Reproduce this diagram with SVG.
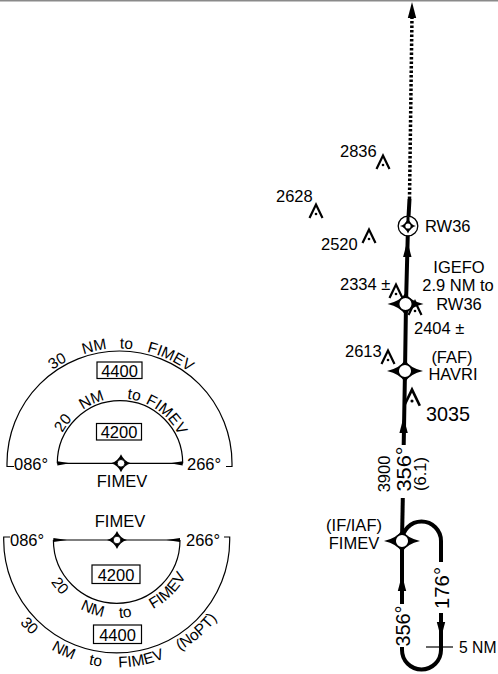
<svg xmlns="http://www.w3.org/2000/svg" width="498" height="674" viewBox="0 0 498 674">
<style>
text{font-family:"Liberation Sans",Arial,sans-serif;fill:#000}
.t16{font-size:16.5px}
.t15{font-size:15.5px}
.big{font-size:21px}
.thin{fill:none;stroke:#000;stroke-width:1.2}
.route{fill:none;stroke:#000;stroke-width:4}
.obs{fill:none;stroke:#000;stroke-width:2.2;stroke-linejoin:miter}
</style>
<defs>
<g id="fix">
<path d="M-18,0 Q-5,-3 0,-11 Q5,-3 18,0 Q5,3 0,11 Q-5,3 -18,0Z" fill="#000"/>
<circle r="6.8" fill="#fff" stroke="#000" stroke-width="1.5"/>
</g>
<g id="sfix">
<path d="M-10,0 Q-3,-2 0,-9 Q3,-2 10,0 Q3,2 0,9 Q-3,2 -10,0Z" fill="#000"/>
<circle r="3.8" fill="#fff" stroke="#000" stroke-width="0.9"/>
</g>
<g id="obst">
<path class="obs" d="M-6.5,14 L0,0.5 L6.5,14"/>
<circle cx="0" cy="10" r="1.3" fill="#000"/>
</g>
<path id="arr" d="M0,0 L4.2,16 L-4.2,16Z" fill="#000"/>
<path id="uo" d="M4.5,463.5 A115 115 0 0 1 234.5,463.5"/>
<path id="ui" d="M55,463.3 A65 65 0 0 1 185,463.3"/>
<path id="lo" d="M-10.8,540 A127.5 127.5 0 0 0 244.2,540"/>
<path id="li" d="M38.7,540 A78 78 0 0 0 194.7,540"/>
</defs>

<rect x="0" y="0" width="498" height="1.5" fill="#8a8a8a"/>

<g id="connectors">
<path class="route" d="M402.8,498 L402,541"/>
<path class="route" d="M403.7,445 L405,371 L406,304 L408,226 L409.5,199"/>
<path fill="none" stroke="#000" stroke-width="3.5" stroke-dasharray="2.5 2" d="M409.5,199 L412,16"/>
<use href="#arr" x="412" y="2"/>
<use href="#arr" x="407.3" y="241"/>
<use href="#arr" x="403.6" y="417"/>
<path class="route" d="M402,541 A19.5 19.5 0 0 1 441,541 V562"/>
<path class="route" d="M441,613 V650 A19.5 19.5 0 0 1 402,650 V647"/>
<path class="route" d="M402,541 V604"/>
<use href="#arr" x="402" y="575"/>
<use href="#arr" transform="translate(441,638) rotate(180)"/>
<line class="thin" x1="426" y1="647" x2="453" y2="647"/>
</g>

<g id="rw36">
<circle cx="408" cy="226" r="9.8" fill="#fff" stroke="#000" stroke-width="1.3"/>
<path d="M408,216.5 L408,226" stroke="#000" stroke-width="3"/>
<path d="M400,226 Q405,225 408,218.5 Q411,225 416,226 Q411,227 408,233.5 Q405,227 400,226Z" fill="#000"/>
<circle cx="408" cy="226" r="2.6" fill="#fff"/>
<text class="t16" x="425" y="232">RW36</text>
</g>

<g id="igefo">
<use href="#fix" x="405.5" y="304"/>
<text class="t16" text-anchor="middle" x="459" y="273">IGEFO</text>
<text class="t16" text-anchor="middle" x="458" y="291">2.9 NM to</text>
<text class="t16" text-anchor="middle" x="459" y="310">RW36</text>
</g>

<g id="havri">
<use href="#fix" x="405" y="371"/>
<text class="t16" text-anchor="middle" x="452" y="363">(FAF)</text>
<text class="t16" text-anchor="middle" x="453" y="380">HAVRI</text>
</g>

<g id="fimev-iaf">
<use href="#fix" x="402" y="541"/>
<text class="t16" text-anchor="middle" x="354" y="531">(IF/IAF)</text>
<text class="t16" text-anchor="middle" x="354" y="549">FIMEV</text>
</g>

<g id="obstacles">
<use href="#obst" x="383" y="155"/>
<text class="t16" x="340" y="157">2836</text>
<use href="#obst" x="316" y="204"/>
<text class="t16" x="276" y="202">2628</text>
<use href="#obst" x="369" y="229"/>
<text class="t16" x="321" y="250">2520</text>
<use href="#obst" x="396" y="284"/>
<text class="t16" x="340" y="290">2334 ±</text>
<use href="#obst" x="415" y="301"/>
<text class="t16" x="414" y="334">2404 ±</text>
<use href="#obst" x="388" y="350"/>
<text class="t16" x="345" y="357">2613</text>
<use href="#obst" transform="translate(412,389) scale(1.2)"/>
<text x="426" y="421" style="font-size:21px" textLength="44" lengthAdjust="spacingAndGlyphs">3035</text>
</g>

<g id="legs">
<text class="t16" text-anchor="middle" transform="translate(390,474) rotate(-90)">3900</text>
<text class="big" text-anchor="middle" transform="translate(411,469) rotate(-90)" textLength="45" lengthAdjust="spacingAndGlyphs">356°</text>
<text class="t16" text-anchor="middle" transform="translate(426,474) rotate(-90)">(6.1)</text>
<text class="big" text-anchor="middle" transform="translate(409.5,626) rotate(-90)" textLength="41" lengthAdjust="spacingAndGlyphs">356°</text>
<text class="big" text-anchor="middle" transform="translate(449,588) rotate(-90)" textLength="42" lengthAdjust="spacingAndGlyphs">176°</text>
<text x="459" y="653" style="font-size:16.5px" textLength="37.5" lengthAdjust="spacingAndGlyphs">5 NM</text>
</g>

<g id="taa-upper">
<path class="thin" d="M14,466.5 H7 V463.5 A112.5 112.5 0 0 1 232,463.5 V466.5 H226"/>
<path class="thin" d="M57.3,463.3 A62.7 62.7 0 0 1 182.7,463.3"/>
<line class="thin" x1="57.3" y1="463.3" x2="182.7" y2="463.3"/>
<path d="M57.3,461.2 L70,463.3 L57.3,465.4Z" fill="#000"/>
<path d="M182.7,461.2 L170,463.3 L182.7,465.4Z" fill="#000"/>
<use href="#sfix" x="121" y="463.3"/>
<text class="t16" x="14" y="470">086°</text>
<text class="t16" x="187" y="470">266°</text>
<text class="t16" text-anchor="middle" x="122" y="487">FIMEV</text>
<rect class="thin" x="97" y="362" width="45" height="16.5" fill="#fff"/>
<text class="t16" text-anchor="middle" x="119.5" y="376.5">4400</text>
<rect class="thin" x="96.5" y="423.5" width="45" height="16.5" fill="#fff"/>
<text class="t16" text-anchor="middle" x="119" y="438">4200</text>
<text class="t15" text-anchor="middle"><textPath href="#uo" startOffset="32.6%">30</textPath></text>
<text class="t15" text-anchor="middle"><textPath href="#uo" startOffset="43.2%">NM</textPath></text>
<text class="t15" text-anchor="middle"><textPath href="#uo" startOffset="51.9%">to</textPath></text>
<text class="t15" text-anchor="middle"><textPath href="#uo" startOffset="64.2%">FIMEV</textPath></text>
<text class="t15" text-anchor="middle"><textPath href="#ui" startOffset="19.6%">20</textPath></text>
<text class="t15" text-anchor="middle"><textPath href="#ui" startOffset="36.5%">NM</textPath></text>
<text class="t15" text-anchor="middle"><textPath href="#ui" startOffset="56.6%">to</textPath></text>
<text class="t15" text-anchor="middle"><textPath href="#ui" startOffset="74.3%">FIMEV</textPath></text>
</g>

<g id="taa-lower">
<path class="thin" d="M10,537 H3.7 V540 A113 113 0 0 0 229.7,540 V537 H224"/>
<path class="thin" d="M53.4,540 A63.3 63.3 0 0 0 180,540"/>
<line class="thin" x1="53.4" y1="540" x2="180" y2="540"/>
<path d="M53.4,537.9 L67,540 L53.4,542.1Z" fill="#000"/>
<path d="M180,537.9 L166.4,540 L180,542.1Z" fill="#000"/>
<use href="#sfix" x="117" y="540"/>
<text class="t16" x="10" y="546">086°</text>
<text class="t16" x="186" y="546">266°</text>
<text class="t16" text-anchor="middle" x="120" y="527">FIMEV</text>
<rect class="thin" x="92" y="565" width="48" height="18.5" fill="#fff"/>
<text class="t16" text-anchor="middle" x="116" y="580.5">4200</text>
<rect class="thin" x="93.5" y="625" width="48" height="18.5" fill="#fff"/>
<text class="t16" text-anchor="middle" x="117.5" y="640.5">4400</text>
<text class="t15" text-anchor="middle"><textPath href="#lo" startOffset="24.7%">30</textPath></text>
<text class="t15" text-anchor="middle"><textPath href="#lo" startOffset="35.8%">NM</textPath></text>
<text class="t15" text-anchor="middle"><textPath href="#lo" startOffset="44.5%">to</textPath></text>
<text class="t15" text-anchor="middle"><textPath href="#lo" startOffset="56.4%">FIMEV</textPath></text>
<text class="t15" text-anchor="middle"><textPath href="#lo" startOffset="72.7%">(NoPT)</textPath></text>
<text class="t15" text-anchor="middle"><textPath href="#li" startOffset="21.6%">20</textPath></text>
<text class="t15" text-anchor="middle"><textPath href="#li" startOffset="39.3%">NM</textPath></text>
<text class="t15" text-anchor="middle"><textPath href="#li" startOffset="53.7%">to</textPath></text>
<text class="t15" text-anchor="middle"><textPath href="#li" startOffset="75.1%">FIMEV</textPath></text>
</g>
</svg>
